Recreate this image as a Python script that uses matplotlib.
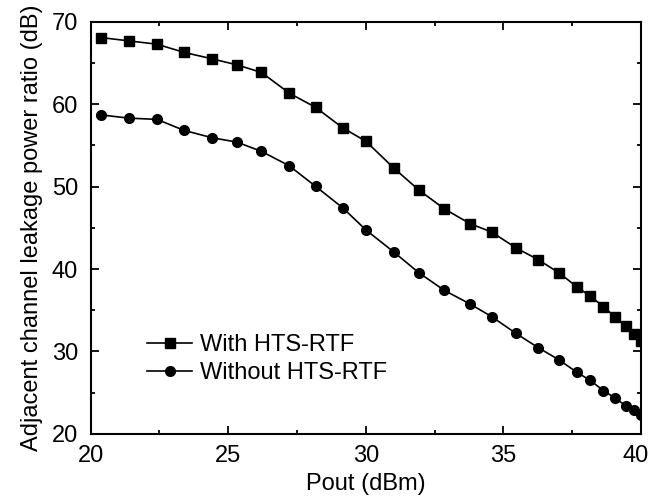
import matplotlib
matplotlib.use('Agg')
import matplotlib.pyplot as plt
import matplotlib.transforms as mtransforms
from matplotlib.ticker import MultipleLocator

plt.rcParams['font.family'] = ['Liberation Sans', 'DejaVu Sans']

pout = [20.36, 21.39, 22.41, 23.40, 24.42, 25.32, 26.21, 27.22, 28.18, 29.16,
        30.01, 31.02, 31.93, 32.85, 33.79, 34.58, 35.45, 36.27, 37.03, 37.67,
        38.15, 38.64, 39.07, 39.44, 39.75, 40.0]
with_rtf = [68.08, 67.67, 67.27, 66.27, 65.49, 64.76, 63.84, 61.33, 59.6, 57.13,
            55.48, 52.24, 49.58, 47.31, 45.5, 44.48, 42.58, 41.13, 39.52, 37.85,
            36.73, 35.44, 34.15, 33.13, 32.13, 31.24]
without_rtf = [58.70, 58.30, 58.15, 56.81, 55.92, 55.39, 54.27, 52.52, 50.02, 47.43,
               44.73, 42.06, 39.55, 37.42, 35.76, 34.22, 32.21, 30.46, 28.97, 27.48,
               26.51, 25.25, 24.33, 23.44, 22.95, 22.27]

fs = 17

fig = plt.figure(figsize=(6.52, 5.04), dpi=100)
ax = fig.add_axes([0.139, 0.139, 0.844, 0.818])

ax.plot(pout, with_rtf, color='black', lw=1.2, marker='s', ms=7.5, label='With HTS-RTF')
ax.plot(pout, without_rtf, color='black', lw=1.2, marker='o', ms=7, label='Without HTS-RTF')

ax.set_xlim(20, 40)
ax.set_ylim(20, 70)
ax.xaxis.set_major_locator(MultipleLocator(5))
ax.xaxis.set_minor_locator(MultipleLocator(2.5))
ax.yaxis.set_major_locator(MultipleLocator(10))
ax.yaxis.set_minor_locator(MultipleLocator(5))
ax.tick_params(which='both', direction='in', top=True, right=True, width=1.3, labelsize=fs)
ax.tick_params(which='major', length=6)
ax.tick_params(which='minor', length=3)
ax.tick_params(axis='x', pad=8)
ax.tick_params(axis='y', pad=9)
for s in ax.spines.values():
    s.set_linewidth(1.5)

ax.set_xlabel('Pout (dBm)', fontsize=fs, labelpad=4)
ax.set_ylabel('Adjacent channel leakage power ratio (dB)', fontsize=fs, labelpad=6)

ax.legend(loc='lower left', bbox_to_anchor=(0.064, 0.07), frameon=False, fontsize=fs,
          handlelength=1.9, handletextpad=0.35, labelspacing=0.25)

# the "40" label sits a little left of its tick, as in the original
fig.canvas.draw()
for lab in ax.get_xticklabels():
    if lab.get_text() == '40':
        lab.set_transform(lab.get_transform() +
                          mtransforms.ScaledTranslation(-4 / 72, 0, fig.dpi_scale_trans))

fig.savefig('out.png', dpi=100)
